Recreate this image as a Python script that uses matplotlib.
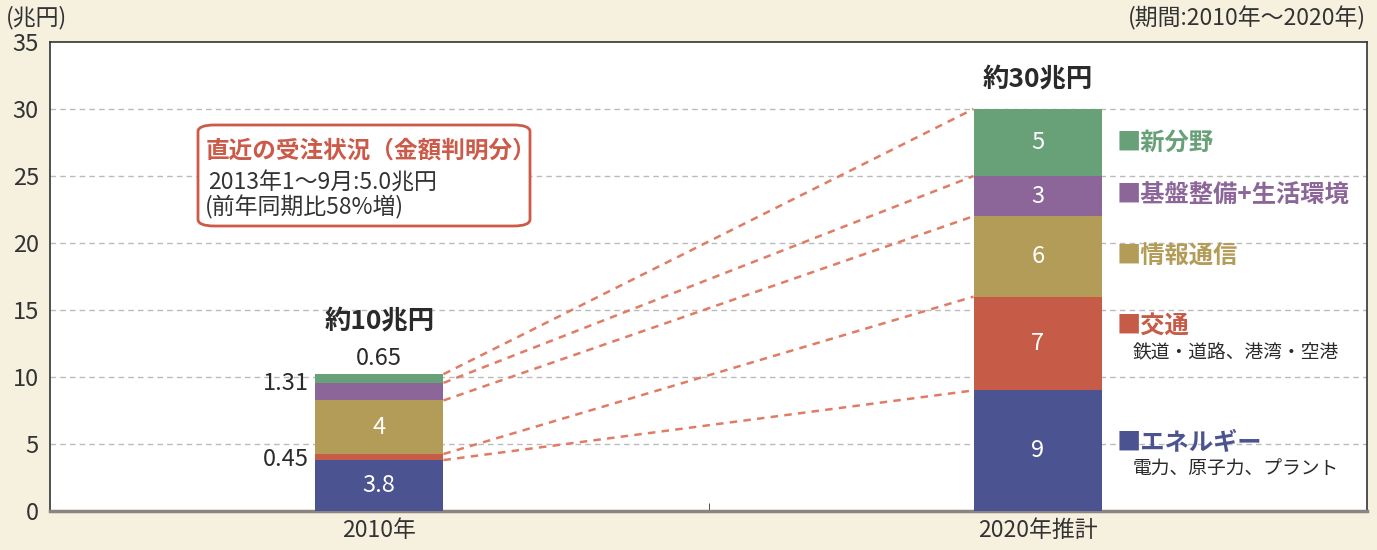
import matplotlib.pyplot as plt
from matplotlib.patches import FancyBboxPatch

plt.rcParams['font.family'] = ['Noto Sans CJK JP', 'DejaVu Sans']

years = ["2010年", "2020年推計"]
categories = ["エネルギー", "交通", "情報通信", "基盤整備+生活環境", "新分野"]
values_2010 = [3.8, 0.45, 4, 1.31, 0.65]
values_2020 = [9, 7, 6, 3, 5]
labels_2010 = ["3.8", "0.45", "4", "1.31", "0.65"]
labels_2020 = ["9", "7", "6", "3", "5"]
subtitles = ["電力、原子力、プラント", "鉄道・道路、港湾・空港", "", "", ""]
colors = ["#4C5391", "#C65B48", "#B39B58", "#8C6699", "#68A078"]
totals = ["約10兆円", "約30兆円"]

W, H = 1377, 550
DARK = "#2A2A2A"


def px(x, y):
    return x / W, 1 - y / H


fig = plt.figure(figsize=(13.77, 5.5), dpi=100, facecolor="#F6F0DF")
ax = fig.add_axes([50 / W, 1 - 511 / H, 1317 / W, 469 / H])
ax.set_facecolor("white")
ax.set_xlim(-0.5, 1.5)
ax.set_ylim(0, 35)

bw = 0.195
for xi, vals in enumerate([values_2010, values_2020]):
    bottom = 0
    for v, c in zip(vals, colors):
        ax.bar(xi, v, bottom=bottom, width=bw, color=c, zorder=3)
        bottom += v

# labels on the 2010 bar
b = 0
tops_2010 = []
for i, v in enumerate(values_2010):
    mid = b + v / 2
    b += v
    tops_2010.append(b)
    if i in (0, 2):
        ax.text(0, mid, labels_2010[i], color="white", ha="center", va="center", fontsize=17, zorder=4)
ax.text(-bw / 2 - 0.01, values_2010[0] + values_2010[1] / 2 - 0.2, labels_2010[1], ha="right", va="center", fontsize=17, color=DARK)
ax.text(-bw / 2 - 0.01, tops_2010[2] + values_2010[3] / 2 + 0.6, labels_2010[3], ha="right", va="center", fontsize=17, color=DARK)
ax.text(0, tops_2010[4] + 1.2, labels_2010[4], ha="center", va="center", fontsize=17, color=DARK)
ax.text(0, tops_2010[4] + 3.9, totals[0], ha="center", va="center", fontsize=19, fontweight="bold", color=DARK)

b = 0
tops_2020 = []
for i, v in enumerate(values_2020):
    ax.text(1, b + v / 2, labels_2020[i], color="white", ha="center", va="center", fontsize=17, zorder=4)
    b += v
    tops_2020.append(b)
ax.text(1, tops_2020[-1] + 2.2, totals[1], ha="center", va="center", fontsize=19, fontweight="bold", color=DARK)

# connecting dashed lines
for t0, t1 in zip(tops_2010, tops_2020):
    ax.plot([bw / 2, 1 - bw / 2], [t0, t1], color="#E07C64", lw=1.8, ls=(0, (3, 2.5)), zorder=2)

# right side category labels
for i, (cat, sub, c) in enumerate(zip(categories, subtitles, colors)):
    lo = sum(values_2020[:i])
    hi = lo + values_2020[i]
    y = (lo + hi) / 2 + (1.3 if sub else 0)
    if i == 0:
        y = 5.1
    ax.text(1.12, y, "■" + cat, color=c, fontsize=17.5, fontweight="bold", va="center", ha="left")
    if sub:
        ax.text(1.1445, y - 2.0, sub, color=DARK, fontsize=13.5, va="center", ha="left")

ax.set_yticks(range(0, 36, 5))
ax.set_xticks([0, 1])
ax.set_xticklabels(years, fontsize=16.5, color="#333333")
ax.set_xticks([0.5], minor=True)
ax.tick_params(axis="x", which="major", length=0, pad=6)
ax.tick_params(axis="x", which="minor", length=6, direction="in", color="#333333")
ax.tick_params(axis="y", length=0, labelsize=17, labelcolor="#333333", pad=8)
for yv in range(5, 35, 5):
    ax.axhline(yv, color="#BBBBBB", lw=1, ls=(0, (4, 3)), zorder=1)
for s in ["left", "top", "right"]:
    ax.spines[s].set_color("#333333")
    ax.spines[s].set_linewidth(1.2)
ax.spines["bottom"].set_color("#8A8580")
ax.spines["bottom"].set_linewidth(2.5)

# box with recent orders
x0, y0 = px(198, 226)
x1, y1 = px(530, 125)
box = FancyBboxPatch((x0, y0), x1 - x0, y1 - y0, boxstyle="round,pad=0,rounding_size=0.012",
                     transform=fig.transFigure, facecolor="white", edgecolor="#CC5A48", lw=2, zorder=5)
fig.patches.append(box)
fig.text(*px(206, 151), "直近の受注状況（金額判明分）", color="#CC5A48", fontsize=17, fontweight="bold", va="center", zorder=6)
fig.text(*px(208, 183), "2013年1～9月:5.0兆円", color="#333333", fontsize=16.5, va="center", zorder=6)
fig.text(*px(205, 207), "(前年同期比58%増)", color="#333333", fontsize=16.5, va="center", zorder=6)

fig.text(*px(6, 18), "(兆円)", color="#333333", fontsize=16.5, va="center", ha="left")
fig.text(*px(1366, 18), "(期間:2010年～2020年)", color="#333333", fontsize=16.5, va="center", ha="right")

fig.savefig("out.png", dpi=100, facecolor=fig.get_facecolor())
